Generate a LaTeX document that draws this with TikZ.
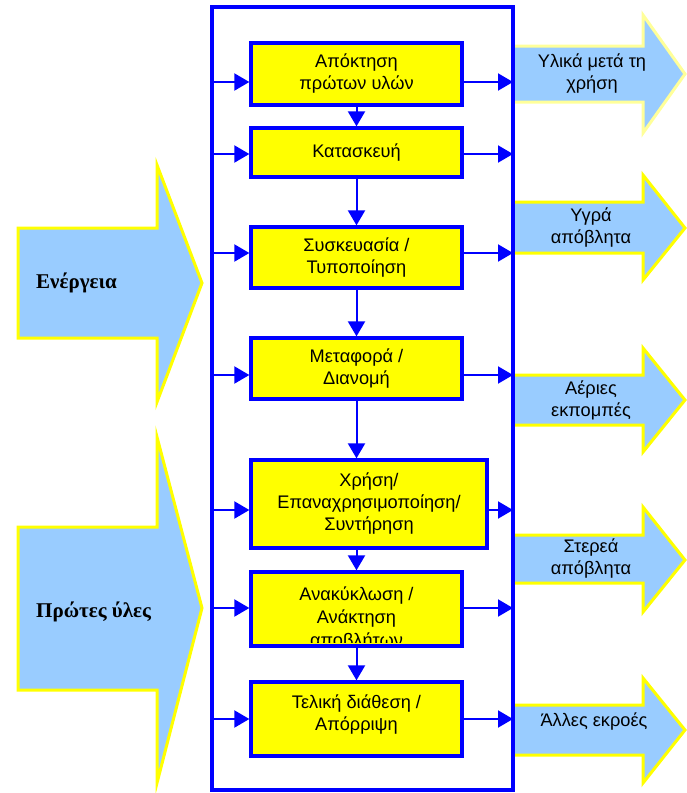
\documentclass[tikz,border=0pt]{standalone}
\usepackage{fontspec}
\setmainfont{Liberation Sans}
\newfontfamily\serifb{Liberation Serif}
\usetikzlibrary{arrows.meta,calc}
\definecolor{fblue}{HTML}{0000FF}
\definecolor{byel}{HTML}{FFFF00}
\definecolor{pyel}{HTML}{FFFF99}
\definecolor{lblue}{HTML}{99CCFF}
\tikzset{
  box/.style={draw=fblue, line width=3.3pt, fill=byel, align=center, inner sep=2pt,
    font=\fontsize{18.2}{22}\selectfont},
  txt/.style={align=center, inner sep=0pt, font=\fontsize{18.2}{22}\selectfont},
  frame/.style={draw=fblue, line width=4pt, fill=none},
  conn/.style={draw=fblue, line width=2pt, -{Triangle[length=15pt,width=17pt]}},
  bigarrow/.style={fill=lblue, draw=byel, line width=3pt, line join=miter},
  bigarrowp/.style={fill=lblue, draw=pyel, line width=3pt, line join=miter},
  outtxt/.style={align=center, inner sep=0pt, font=\fontsize{18.2}{22}\selectfont},
  intxt/.style={anchor=west, inner sep=0pt, font=\serifb\bfseries\fontsize{21}{25}\selectfont}
}
\begin{document}
\begin{tikzpicture}[x=1pt,y=-1pt]
\useasboundingbox (0,0) rectangle (687,793);
% input arrows
\draw[bigarrow] (18,228) -- (157,228) -- (157,165) -- (202,283) -- (157,402) -- (157,338) -- (18,338) -- cycle;
\draw[bigarrow] (18,527) -- (157,527) -- (157,437) -- (202,608) -- (157,783) -- (157,690) -- (18,690) -- cycle;
\node[intxt] (en) at (36,283) {Ενέργεια};
\node[intxt] (py) at (36,612) {Πρώτες ύλες};
% output arrows
\draw[bigarrowp] (513,46) -- (643,46) -- (643,15) -- (685,74) -- (643,133) -- (643,102) -- (513,102) -- cycle;
\draw[bigarrow] (513,202) -- (643,202) -- (643,175) -- (685,228) -- (643,280) -- (643,253) -- (513,253) -- cycle;
\draw[bigarrow] (513,375) -- (643,375) -- (643,348) -- (685,400) -- (643,452) -- (643,425) -- (513,425) -- cycle;
\draw[bigarrow] (513,535) -- (643,535) -- (643,507) -- (685,560) -- (643,612) -- (643,583) -- (513,583) -- cycle;
\draw[bigarrow] (513,705) -- (643,705) -- (643,678) -- (685,730) -- (643,783) -- (643,755) -- (513,755) -- cycle;
\node[outtxt] (o1) at (592,74) {Υλικά μετά τη\\χρήση};
\node[outtxt] (o2) at (591,228) {Υγρά\\απόβλητα};
\node[outtxt] (o3) at (591,400) {Αέριες\\εκπομπές};
\node[outtxt] (o4) at (591,559) {Στερεά\\απόβλητα};
\node[outtxt] (o5) at (594,722) {Άλλες εκροές};
% frame
\node[frame, minimum width=301, minimum height=783, inner sep=0pt] (fr) at (362.5,398.5) {};
% boxes
\node[box, minimum width=211, minimum height=62] (b1) at (356.5,74) {Απόκτηση\\πρώτων υλών};
\node[box, minimum width=211, minimum height=49] (b2) at (356.5,152.5) {Κατασκευή};
\node[box, minimum width=211, minimum height=61] (b3) at (356.5,257.5) {Συσκευασία /\\Τυποποίηση};
\node[box, minimum width=211, minimum height=61] (b4) at (356.5,368.5) {Μεταφορά /\\Διανομή};
\node[box, minimum width=236, minimum height=88] (b5) at (369,504) {Χρήση/\\Επαναχρησιμοποίηση/\\Συντήρηση};
\node[box, minimum width=211, minimum height=74] (b6) at (356.5,609) {};
\begin{scope}
\clip ($(b6.south west)+(2,-5)$) rectangle ($(b6.north east)+(-2,2)$);
\node[txt, anchor=north, font=\fontsize{18.2}{23}\selectfont] (b6t) at ($(b6.north)+(0,16)$) {Ανακύκλωση /\\Ανάκτηση\\αποβλήτων};
\end{scope}
\node[box, minimum width=211, minimum height=74] (b7) at (356.5,719) {};
\node[txt, anchor=north] (b7t) at ($(b7.north)+(0,14)$) {Τελική διάθεση /\\Απόρριψη};
% arrow levels
\coordinate (a1) at (0,82);
\coordinate (a2) at (0,154);
\coordinate (a3) at (0,253);
\coordinate (a4) at (0,375);
\coordinate (a5) at (0,510);
\coordinate (a6) at (0,608);
\coordinate (a7) at (0,719);
\foreach \i in {1,...,7}{
  \draw[conn] (fr.west |- a\i) -- (b\i.west |- a\i);
  \draw[conn, shorten >=2pt] (b\i.east |- a\i) -- (fr.east |- a\i);
}
% vertical connectors
\draw[conn] (b1.south) -- (b2.north);
\draw[conn] (b2.south) -- (b3.north);
\draw[conn] (b3.south) -- (b4.north);
\draw[conn] (b4.south) -- (b4.south |- b5.north);
\draw[conn] (b6.north |- b5.south) -- (b6.north);
\draw[conn] (b6.south) -- (b7.north);
\end{tikzpicture}
\end{document}
